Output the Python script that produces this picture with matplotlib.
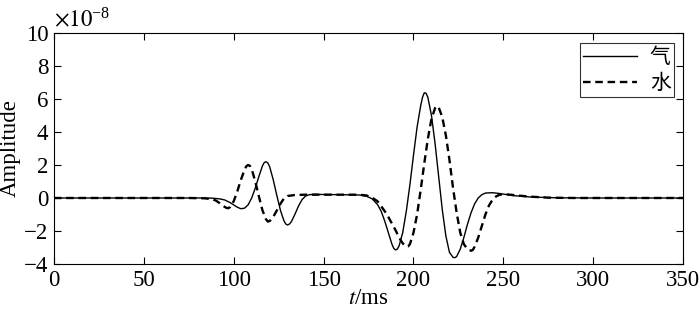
import matplotlib
matplotlib.use("Agg")
import matplotlib.pyplot as plt

plt.rcParams['font.family'] = ['Liberation Serif', 'Noto Sans CJK SC', 'DejaVu Sans']
plt.rcParams['mathtext.fontset'] = 'stix'

# Gas (solid) — amplitude in units of 1e-8
t_gas = [0, 80, 88, 92, 95, 98, 100, 102, 104, 106, 108, 110, 112, 114, 116, 117, 118, 119, 120,
         122, 124, 126, 128, 129, 130, 131, 132, 134, 136, 138, 140, 142, 145, 150, 160, 170, 174,
         177, 180, 182, 184, 186, 188, 189, 190, 191, 192, 194, 196, 198, 200, 202, 204, 205, 206,
         207, 208, 210, 212, 214, 216, 218, 220, 222, 223, 224, 226, 228, 230, 232, 234, 236, 238,
         240, 244, 248, 255, 265, 280, 300, 350]
v_gas = [0, 0, -0.01, -0.05, -0.12, -0.28, -0.42, -0.56, -0.65, -0.62, -0.42, 0.0, 0.6, 1.3, 1.95,
         2.15, 2.2, 2.12, 1.9, 1.1, 0.15, -0.75, -1.4, -1.58, -1.64, -1.58, -1.45, -1.0, -0.5, -0.1,
         0.12, 0.2, 0.22, 0.21, 0.2, 0.18, 0.1, -0.05, -0.4, -0.8, -1.4, -2.1, -2.8, -3.05, -3.15,
         -3.1, -2.9, -2.1, -0.8, 0.8, 2.6, 4.3, 5.6, 6.1, 6.38, 6.35, 6.1, 5.0, 3.3, 1.3, -0.7,
         -2.3, -3.3, -3.6, -3.62, -3.55, -3.1, -2.4, -1.6, -0.9, -0.35, 0.0, 0.2, 0.3, 0.32, 0.27,
         0.15, 0.06, 0.01, 0, 0]

# Water (dashed)
t_wat = [0, 75, 84, 88, 90, 92, 94, 96, 97, 98, 100, 102, 104, 106, 107, 108, 109, 110, 112, 114,
         116, 118, 119, 120, 122, 124, 126, 128, 130, 134, 140, 150, 160, 170, 174, 177, 180, 182,
         184, 186, 188, 190, 192, 194, 196, 197, 198, 200, 202, 204, 206, 208, 210, 212, 213, 214,
         216, 218, 220, 222, 224, 226, 228, 230, 232, 233, 234, 236, 238, 240, 242, 244, 246, 248,
         252, 258, 265, 275, 290, 350]
v_wat = [0, 0, -0.02, -0.08, -0.15, -0.3, -0.48, -0.6, -0.62, -0.55, -0.2, 0.4, 1.1, 1.7, 1.92,
         2.0, 1.95, 1.75, 1.0, 0.1, -0.75, -1.3, -1.43, -1.4, -1.15, -0.75, -0.35, -0.02, 0.12,
         0.18, 0.2, 0.2, 0.2, 0.2, 0.15, 0.02, -0.2, -0.5, -0.8, -1.15, -1.55, -1.95, -2.4, -2.75,
         -2.95, -2.93, -2.8, -2.1, -1.0, 0.5, 2.1, 3.6, 4.8, 5.45, 5.58, 5.5, 4.9, 3.8, 2.3, 0.6,
         -0.9, -2.1, -2.8, -3.1, -3.2, -3.15, -2.95, -2.4, -1.7, -1.0, -0.45, -0.1, 0.1, 0.2, 0.22,
         0.15, 0.08, 0.02, 0, 0]

labels = ['气', '水']
x_ticks = [0, 50, 100, 150, 200, 250, 300, 350]
y_ticks = [-4, -2, 0, 2, 4, 6, 8, 10]

fig = plt.figure(figsize=(7.0, 3.12), dpi=100)
ax = fig.add_axes([0.077, 0.154, 0.899, 0.740])

ax.plot(t_gas, v_gas, color='black', lw=1.0, label=labels[0])
ax.plot(t_wat, v_wat, color='black', lw=1.7, dashes=(3.2, 2.0), label=labels[1])

ax.set_xlim(0, 350)
ax.set_ylim(-4, 10)
ax.set_xticks(x_ticks)
ax.set_yticks(y_ticks)
ax.tick_params(direction='in', top=True, right=True, length=5, width=0.8,
               labelsize=16.5, pad=4)
for s in ax.spines.values():
    s.set_linewidth(0.8)

ax.set_xlabel(r'$t$/ms', fontsize=16.5, labelpad=-2)
ax.set_ylabel('Amplitude', fontsize=16.5, labelpad=2)
ax.text(0.0, 1.01, r'$\times 10^{\mathregular{-8}}$', transform=ax.transAxes,
        fontsize=16.5, ha='left', va='bottom')

leg = ax.legend(loc='upper right', bbox_to_anchor=(0.985, 0.958),
                prop={'family': ['Noto Sans CJK SC'], 'size': 15},
                frameon=True, fancybox=False, handlelength=2.6, handletextpad=0.6,
                borderpad=0.15, labelspacing=0.2, borderaxespad=0.0)
leg.get_frame().set_edgecolor('black')
leg.get_frame().set_linewidth(0.8)

fig.savefig('out.png', dpi=100)
